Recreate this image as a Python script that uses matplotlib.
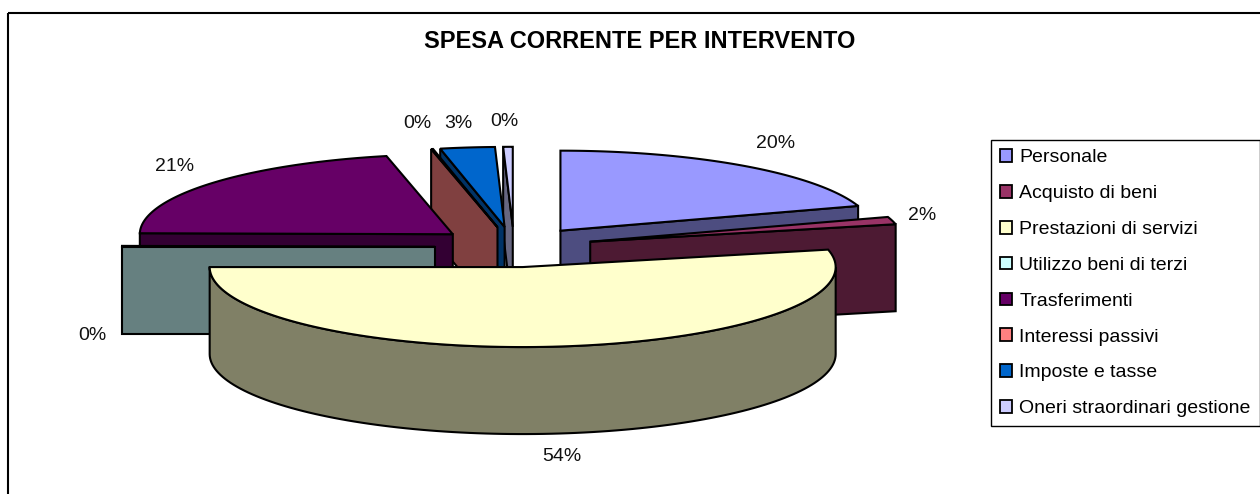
import matplotlib
matplotlib.use("Agg")
import matplotlib.pyplot as plt
from matplotlib.patches import Patch, Polygon, Rectangle
from matplotlib.colors import to_rgb
import numpy as np

categories = ["Personale", "Acquisto di beni", "Prestazioni di servizi",
              "Utilizzo beni di terzi", "Trasferimenti", "Interessi passivi",
              "Imposte e tasse", "Oneri straordinari gestione"]
values = [20.0, 1.5, 53.5, 0.2, 21.4, 0.1, 2.81, 0.49]
colors = ["#9999FF", "#993366", "#FFFFCC", "#CCFFFF", "#660066", "#FF8080", "#0066CC", "#CCCCFF"]

# back slices first, so nearer ones cover them
paint_order = [7, 6, 5, 4, 3, 0, 1, 2]
label_pos = [(776, 143), (922, 215), (562, 456), (92, 335), (175, 166), (417, 123), (458, 123), (504, 121)]

# pie geometry, in image pixels
cx, cy = 514, 247
rx, ry = 313, 80
depth = 87
explode = 79
lw = 1.5

plt.rcParams["font.family"] = ["Liberation Sans", "DejaVu Sans"]

fig = plt.figure(figsize=(12.6, 4.94), dpi=100)
ax = fig.add_axes([0, 0, 1, 1])
ax.set_xlim(0, 1260)
ax.set_ylim(494, 0)
ax.axis("off")

# chart frame runs off the right and bottom of the image
ax.add_patch(Rectangle((8, 13), 1400, 600, fill=False, edgecolor="black", lw=1.5))


def rim(apex, theta, drop=0):
    return apex[0] + rx * np.sin(theta), apex[1] - ry * np.cos(theta) + drop


def draw_slice(start, end, color):
    mid = (start + end) / 2
    apex = (cx + explode * np.sin(mid), cy - explode * ry / rx * np.cos(mid))
    side = tuple(c * 0.5 for c in to_rgb(color))

    # radial walls, only when they face the viewer
    walls = []
    if np.sin(start) < 0:
        walls.append(start)
    if np.sin(end) > 0:
        walls.append(end)
    for t in walls:
        x, y = rim(apex, t)
        pts = [apex, (x, y), (x, y + depth), (apex[0], apex[1] + depth)]
        ax.add_patch(Polygon(pts, closed=True, facecolor=side, edgecolor="black", lw=lw))

    # outer wall, front half of the ellipse only
    lo, hi = max(start, np.pi / 2), min(end, 3 * np.pi / 2)
    if hi > lo:
        t = np.linspace(lo, hi, 120)
        xs, ys = rim(apex, t)
        pts = np.r_[np.c_[xs, ys], np.c_[xs[::-1], ys[::-1] + depth]]
        ax.add_patch(Polygon(pts, closed=True, facecolor=side, edgecolor="black", lw=lw))

    # top face
    t = np.linspace(start, end, 120)
    xs, ys = rim(apex, t)
    pts = np.r_[[apex], np.c_[xs, ys]]
    ax.add_patch(Polygon(pts, closed=True, facecolor=color, edgecolor="black", lw=lw))


edges = np.r_[0, np.cumsum(values)] / sum(values) * 2 * np.pi
for i in paint_order:
    draw_slice(edges[i], edges[i + 1], colors[i])

for v, (x, y) in zip(values, label_pos):
    ax.text(x, y, "%d%%" % round(v), fontsize=14, ha="center", va="center", color="#111111")

ax.text(640, 42, "SPESA CORRENTE PER INTERVENTO", fontsize=17, fontweight="bold",
        ha="center", va="center")

handles = [Patch(facecolor=c, edgecolor="black", lw=1.3) for c in colors]
leg = ax.legend(handles, categories, loc="upper left", bbox_to_anchor=(991, 140),
                bbox_transform=ax.transData, fontsize=14, frameon=True, fancybox=False,
                edgecolor="black", framealpha=1, borderaxespad=0, borderpad=0.48,
                labelspacing=0.96, handlelength=0.62, handleheight=0.62, handletextpad=0.36)
leg.get_frame().set_linewidth(1.0)

fig.savefig("out.png", dpi=100)
